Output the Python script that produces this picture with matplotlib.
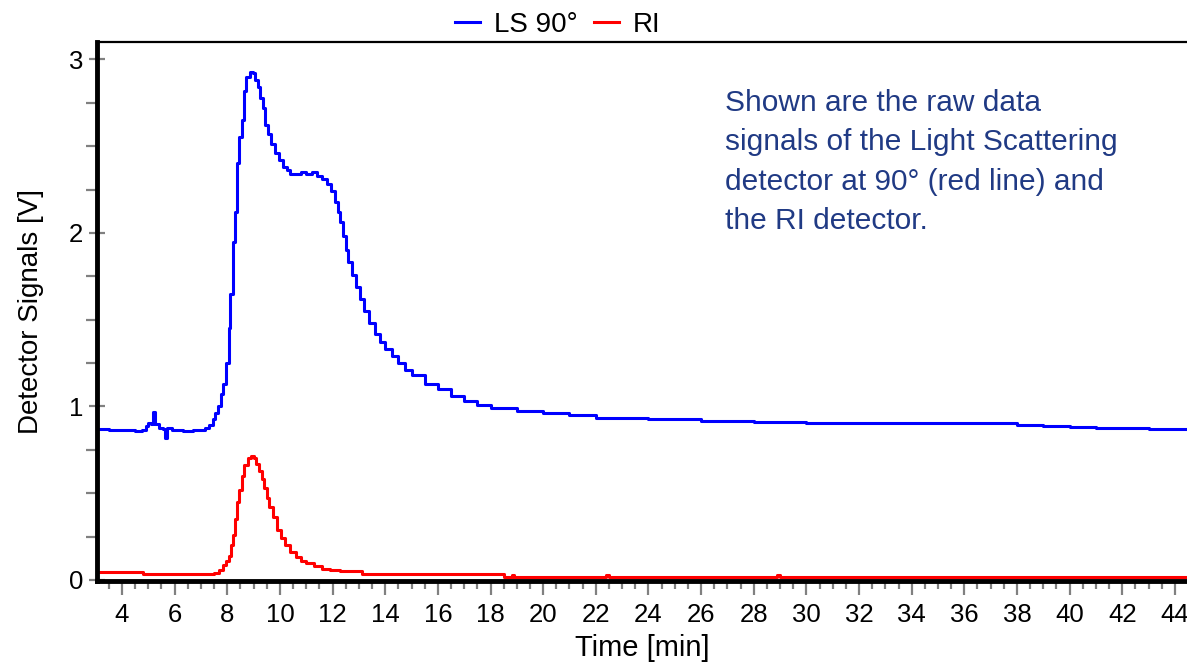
import matplotlib.pyplot as plt
from matplotlib.ticker import MultipleLocator

plt.rcParams['font.family'] = ['Liberation Sans', 'DejaVu Sans']

# LS 90° signal (blue)
t_ls = [3.05, 3.5, 4.0, 4.5, 4.75, 4.9, 5.0, 5.1, 5.18, 5.25, 5.4, 5.55, 5.65, 5.72,
        5.9, 6.3, 6.7, 7.0, 7.15, 7.3, 7.45, 7.55, 7.65, 7.75, 7.85, 7.95, 8.05, 8.12,
        8.2, 8.28, 8.36, 8.45, 8.55, 8.62, 8.72, 8.85, 8.97, 9.05, 9.15, 9.25, 9.35,
        9.45, 9.55, 9.65, 9.8, 9.95, 10.1, 10.25, 10.4, 10.6, 10.8, 11.0, 11.2, 11.4,
        11.6, 11.8, 11.95, 12.1, 12.2, 12.3, 12.4, 12.5, 12.6, 12.75, 12.9, 13.05,
        13.2, 13.4, 13.6, 13.8, 14.0, 14.25, 14.5, 14.75, 15.0, 15.5, 16.0, 16.5,
        17.0, 17.5, 18.0, 19.0, 20.0, 21.0, 22.0, 24.0, 26.0, 28.0, 30.0, 32.0, 34.0,
        36.0, 37.0, 38.0, 39.0, 40.0, 41.0, 42.0, 43.0, 44.46]
ls_90 = [0.87, 0.865, 0.865, 0.86, 0.865, 0.885, 0.905, 0.90, 0.965, 0.90, 0.875, 0.87,
         0.82, 0.875, 0.865, 0.86, 0.865, 0.865, 0.875, 0.895, 0.925, 0.96, 1.00, 1.07,
         1.13, 1.25, 1.45, 1.65, 1.95, 2.12, 2.40, 2.55, 2.65, 2.82, 2.90, 2.93, 2.92,
         2.88, 2.84, 2.78, 2.72, 2.62, 2.57, 2.51, 2.46, 2.42, 2.38, 2.36, 2.34, 2.34,
         2.35, 2.34, 2.35, 2.33, 2.31, 2.28, 2.24, 2.18, 2.12, 2.06, 1.98, 1.90, 1.83,
         1.76, 1.69, 1.62, 1.55, 1.48, 1.42, 1.37, 1.33, 1.29, 1.25, 1.21, 1.18, 1.13,
         1.10, 1.06, 1.03, 1.01, 0.99, 0.975, 0.96, 0.95, 0.935, 0.925, 0.915, 0.91,
         0.905, 0.905, 0.905, 0.905, 0.905, 0.895, 0.89, 0.88, 0.875, 0.875, 0.87, 0.87]

# RI signal (red)
t_ri = [3.05, 4.7, 4.8, 5.5, 7.3, 7.5, 7.7, 7.85, 7.95, 8.05, 8.15, 8.22, 8.3, 8.38,
        8.45, 8.55, 8.65, 8.78, 8.9, 9.0, 9.1, 9.2, 9.3, 9.4, 9.5, 9.6, 9.75, 9.9,
        10.05, 10.2, 10.4, 10.6, 10.8, 11.0, 11.3, 11.6, 11.9, 12.3, 13.1, 18.5, 18.8,
        18.9, 22.4, 22.5, 28.9, 29.0, 44.46]
ri = [0.045, 0.045, 0.035, 0.033, 0.033, 0.04, 0.06, 0.085, 0.11, 0.14, 0.20, 0.26,
      0.35, 0.45, 0.52, 0.60, 0.66, 0.70, 0.715, 0.70, 0.67, 0.63, 0.58, 0.53, 0.47,
      0.42, 0.36, 0.29, 0.24, 0.20, 0.16, 0.13, 0.11, 0.095, 0.08, 0.065, 0.057, 0.05,
      0.035, 0.018, 0.028, 0.018, 0.026, 0.018, 0.026, 0.018, 0.018]

note = ('Shown are the raw data\nsignals of the Light Scattering\n'
        'detector at 90° (red line) and\nthe RI detector.')

fig = plt.figure(figsize=(11.87, 6.62), dpi=100)
ax = fig.add_axes([97 / 1187, 1 - 581 / 662, 1 - 97 / 1187, (581 - 42) / 662])

ax.plot(t_ls, ls_90, color='#0000ff', lw=2.2, drawstyle='steps-post', label='LS 90°')
ax.plot(t_ri, ri, color='#ff0000', lw=2.2, drawstyle='steps-post', label='RI')

ax.set_xlim(3.05, 44.46)
ax.set_ylim(-0.006, 3.1)

ax.xaxis.set_major_locator(MultipleLocator(2))
ax.xaxis.set_minor_locator(MultipleLocator(0.5))
ax.yaxis.set_major_locator(MultipleLocator(1))
ax.yaxis.set_minor_locator(MultipleLocator(0.25))

gray = '#808080'
ax.tick_params(axis='x', which='major', direction='out', length=10, width=1.6,
               color=gray, labelsize=18.5, pad=6)
ax.tick_params(axis='x', which='minor', direction='out', length=6, width=1.6, color=gray)
ax.tick_params(axis='y', which='major', direction='inout', length=12, width=1.6,
               color=gray, labelsize=18.5, pad=4)
ax.tick_params(axis='y', which='minor', direction='out', length=8, width=1.6, color=gray)

ax.spines['right'].set_visible(False)
ax.spines['left'].set_linewidth(3.5)
ax.spines['bottom'].set_linewidth(3.5)
ax.spines['top'].set_linewidth(1.6)

ax.set_xlabel('Time [min]', fontsize=21, labelpad=5)
ax.set_ylabel('Detector Signals [V]', fontsize=20, labelpad=18)

ax.text(26.9, 2.83, note, color='#203a84', fontsize=21.5, va='top', ha='left',
        linespacing=1.52)

fig.legend(loc='upper center', bbox_to_anchor=(0.47, 1.02), ncol=2, frameon=False,
           fontsize=20, handlelength=0.9, handletextpad=0.5, columnspacing=0.6)

plt.savefig('out.png', dpi=100)
